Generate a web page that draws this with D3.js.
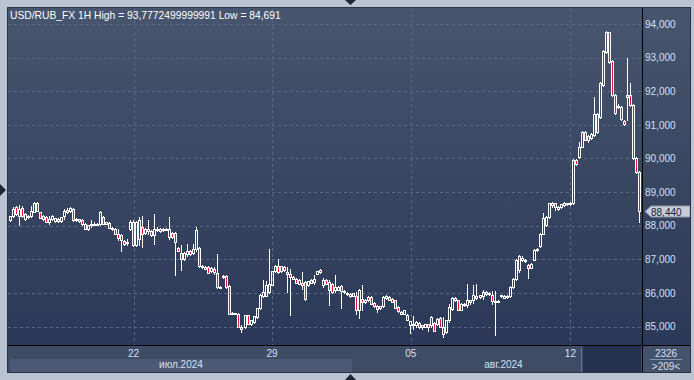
<!DOCTYPE html>
<html>
<head>
<meta charset="utf-8">
<script src="https://cdn.jsdelivr.net/npm/d3@7"></script>
<style>
  body { margin: 0; background: #b9c3d1; }
  svg { display: block; font-family: "Liberation Sans", Arial, sans-serif; }
</style>
</head>
<body>
<div id="chart"></div>
<script>
// ---- data ----
var title = "USD/RUB_FX 1H High = 93,7772499999991 Low = 84,691";

// hourly candles [open, high, low, close], July part
var julyCandles = [
  [88.16,88.30,88.13,88.28],[88.28,88.55,88.25,88.50],[88.55,88.60,88.32,88.35],[88.30,88.62,88.01,88.50],
  [88.52,88.58,88.26,88.28],[88.20,88.38,88.18,88.35],[88.25,88.33,88.22,88.30],[88.30,88.60,88.25,88.45],
  [88.42,88.70,88.40,88.68],[88.68,88.70,88.43,88.45],[88.40,88.42,88.22,88.23],[88.20,88.32,88.18,88.30],
  [88.25,88.28,88.10,88.11],[88.11,88.30,88.06,88.20],[88.19,88.33,88.17,88.30],[88.22,88.24,88.12,88.13],
  [88.13,88.22,88.11,88.20],[88.13,88.27,88.12,88.25],[88.28,88.50,88.20,88.45],[88.40,88.52,88.38,88.48],
  [88.45,88.55,88.40,88.52],[88.50,88.53,88.14,88.16],[88.16,88.22,88.14,88.20],[88.19,88.21,88.12,88.13],
  [88.16,88.20,88.01,88.06],[88.06,88.08,87.90,87.91],[87.91,88.03,87.88,88.01],[88.01,88.16,87.96,88.06],
  [88.06,88.10,88.02,88.03],[88.03,88.08,88.01,88.06],[88.06,88.45,88.01,88.40],[88.25,88.30,88.05,88.06],
  [88.06,88.12,88.04,88.11],[88.08,88.12,87.93,87.94],[87.94,87.97,87.88,87.91],[87.91,87.94,87.75,87.76],
  [87.76,87.91,87.56,87.63],[87.71,87.74,87.26,87.56],[87.53,87.58,87.43,87.46],[87.48,87.61,87.41,87.51],
  [87.91,88.16,87.86,88.11],[88.11,88.16,87.40,87.43],[87.43,88.13,87.40,88.11],[87.61,88.25,87.41,88.16],
  [87.96,88.30,87.36,87.76],[87.79,87.94,87.75,87.91],[87.91,88.16,87.76,87.83],[87.83,87.86,87.69,87.71],
  [87.71,88.35,87.46,87.91],[87.91,87.95,87.85,87.88],[87.91,87.93,87.82,87.83],[87.86,87.93,87.84,87.91],
  [87.91,87.93,87.87,87.89],[87.66,88.25,87.61,87.91],[87.79,87.82,87.64,87.66],[87.79,87.82,86.52,87.51],
  [87.33,87.36,87.24,87.26],[87.19,87.41,86.67,87.01],[87.01,87.21,86.98,87.19],[87.16,87.46,87.11,87.26],
  [87.26,87.29,87.14,87.16],[87.19,87.46,87.16,87.31],[87.31,87.96,87.26,87.86],[87.33,87.38,86.77,86.79],
  [86.79,86.82,86.74,86.77],[86.77,86.80,86.70,86.72],[86.77,86.80,86.58,86.60],[86.64,86.76,86.62,86.74],
  [86.70,86.77,86.57,86.62],[86.60,87.16,86.16,86.17],[86.17,86.20,86.15,86.18],[86.46,86.52,86.44,86.51],
  [86.49,86.52,86.16,86.17],[86.20,86.22,85.37,85.38],[85.38,85.42,85.36,85.40],[85.40,85.41,85.36,85.37],
  [85.37,85.40,84.98,85.00],[85.00,85.05,84.83,84.93],[84.98,85.35,84.95,85.35],[85.33,85.35,85.06,85.08],
  [85.08,85.20,85.05,85.18],[85.13,85.32,85.10,85.31],[85.28,85.56,85.26,85.54],[85.54,85.96,85.52,85.94],
  [85.92,86.37,85.87,86.02],[85.92,86.34,85.90,86.22],[86.02,87.31,86.00,86.27],[86.24,86.66,86.22,86.64],
  [86.64,86.84,86.62,86.81],[86.81,87.01,86.60,86.62],[86.64,86.80,86.62,86.79],[86.77,86.80,86.66,86.67],
  [86.62,86.77,86.02,86.57],[86.57,86.70,85.33,86.47],[86.47,86.50,86.40,86.42],[86.42,86.45,86.28,86.30],
  [86.27,86.40,86.25,86.37],[86.30,86.62,86.12,86.22],[86.32,86.35,85.80,85.82],[86.22,86.36,86.20,86.34],
  [86.37,86.40,86.28,86.30],[86.32,86.54,86.27,86.40],[86.57,86.66,86.55,86.64],[86.69,86.72,86.60,86.62],
  [86.23,86.45,86.18,86.37],[86.37,86.40,86.25,86.27],[86.32,86.37,85.63,86.10],[86.27,86.30,86.00,86.03],
  [86.08,86.52,86.03,86.18],[86.10,86.20,86.08,86.18],[86.20,86.22,85.56,86.06],[86.06,86.08,86.00,86.03],
  [86.00,86.03,85.95,85.96],[85.90,86.00,85.88,85.98]
];

// August part
var augustCandles = [
  [85.99,86.01,85.90,85.92],[85.90,86.03,85.38,85.50],[85.50,86.13,85.26,86.08],[85.83,86.23,85.48,85.73],
  [85.73,85.82,85.70,85.80],[85.88,85.90,85.76,85.78],[85.88,85.90,85.66,85.68],[85.70,85.73,85.58,85.60],
  [85.60,85.63,85.43,85.53],[85.56,85.62,85.52,85.60],[85.60,85.90,85.58,85.88],[85.85,85.93,85.82,85.90],
  [85.88,85.92,85.78,85.80],[85.83,85.86,85.72,85.73],[85.78,85.80,85.54,85.56],[85.58,85.60,85.43,85.45],
  [85.43,85.46,85.36,85.38],[85.38,85.50,85.36,85.48],[85.33,85.36,85.18,85.20],[85.03,85.17,84.81,85.15],
  [85.06,85.30,84.93,85.03],[85.03,85.15,85.00,85.13],[85.10,85.13,84.96,84.98],[85.00,85.04,84.93,85.03],
  [85.00,85.08,84.98,85.06],[85.06,85.08,84.88,85.00],[85.03,85.30,85.00,85.28],[85.10,85.13,84.86,84.88],
  [85.06,85.25,85.03,85.23],[85.25,85.28,84.98,85.00],[85.00,85.28,84.69,84.79],[84.84,85.20,84.80,85.18],
  [85.18,85.68,85.13,85.58],[85.53,85.87,85.50,85.85],[85.85,85.88,85.76,85.78],[85.78,85.80,85.48,85.50],
  [85.50,85.70,85.48,85.68],[85.68,85.70,85.62,85.65],[85.63,86.25,85.58,85.78],[85.78,85.80,85.68,85.72],
  [85.78,86.23,85.70,85.93],[85.90,86.25,85.82,85.85],[85.87,85.95,85.85,85.93],[85.90,86.10,85.83,86.03],
  [86.03,86.05,85.95,85.97],[86.00,86.02,85.94,85.96],[85.93,86.06,85.68,85.76],[85.76,86.05,84.76,85.74],
  [85.76,85.80,85.73,85.75],[85.92,85.95,85.89,85.93],[85.86,85.93,85.85,85.92],[85.90,85.95,85.85,85.88],
  [85.90,86.20,85.88,86.18],[86.18,86.45,86.15,86.42],[86.40,87.00,86.38,86.97],[86.67,87.14,86.62,87.09],
  [87.04,87.10,86.95,86.97],[86.99,87.02,86.93,86.95],[86.82,86.85,86.45,86.75],[86.75,86.90,86.73,86.87],
  [86.99,87.30,86.97,87.27],[87.27,87.35,87.25,87.32],[87.39,87.78,87.37,87.76],[87.76,88.38,87.74,88.23],
  [88.01,88.30,87.99,88.26],[88.26,88.68,88.24,88.66],[88.62,88.70,88.56,88.68],[88.66,88.68,88.46,88.56],
  [88.56,88.60,88.48,88.51],[88.56,88.65,88.53,88.63],[88.61,88.70,88.58,88.68],[88.66,88.68,88.62,88.64],
  [88.64,88.69,88.62,88.68],[88.66,89.98,88.64,89.95],[89.95,89.98,89.80,89.82],[90.05,90.50,90.02,90.35],
  [90.35,90.82,90.33,90.79],[90.79,90.82,90.54,90.56],[90.56,90.69,90.50,90.66],[90.62,90.76,90.58,90.74],
  [90.69,91.82,90.66,91.32],[91.32,91.36,90.77,90.79],[91.24,92.26,91.20,92.23],[92.18,93.24,92.15,93.21],
  [93.18,93.78,93.15,93.75],[93.75,93.77,92.85,92.88],[92.91,92.94,91.87,91.89],[91.89,91.92,91.32,91.34],
  [91.52,91.62,91.50,91.56],[91.52,91.55,91.14,91.16],[91.11,91.13,90.99,91.01],[91.84,92.98,91.14,91.89],
  [91.89,92.23,91.57,91.59],[91.59,91.62,89.98,90.00],[90.00,90.03,89.58,89.60],[89.60,89.63,88.11,88.44]
];

var priceTicks = [85, 86, 87, 88, 89, 90, 91, 92, 93, 94];
var dayTickIndex = [41, 87, 133, 186];
var dayTickLabels = ["22", "29", "05", "12"];
var monthLabels = ["июл.2024", "авг.2024"];
var lastPrice = 88.44;
var totalBars = "2326";
var visibleBars = ">209<";

// ---- layout ----
var W = 694, H = 380;
var plot = {left: 8, right: 642, top: 8, bottom: 345};

var candles = julyCandles.concat(augustCandles);
var ruFmt = function(v, p) { return d3.format("." + p + "f")(v).replace(".", ","); };

var svg = d3.select("#chart").append("svg")
  .attr("width", W).attr("height", H);

var defs = svg.append("defs");
var grad = defs.append("linearGradient").attr("id", "bg")
  .attr("x1", 0).attr("y1", 0).attr("x2", 0).attr("y2", 1);
grad.append("stop").attr("offset", "0%").attr("stop-color", "#47556e");
grad.append("stop").attr("offset", "100%").attr("stop-color", "#2b3857");

// panel background
svg.append("rect").attr("x", 8).attr("y", 8).attr("width", 682).attr("height", 337)
  .attr("fill", "url(#bg)");
// bottom time axis strip
svg.append("rect").attr("x", 8).attr("y", 346).attr("width", 682).attr("height", 26)
  .attr("fill", "#3f4c66");

var x = d3.scaleBand()
  .domain(d3.range(candles.length))
  .range([8.5, 641.2]);
var y = d3.scaleLinear().domain([85, 94]).range([326.5, 24]);

var xc = function(i) { return x(i) + x.bandwidth() / 2; };

// gridlines
svg.append("g").selectAll("line.h")
  .data(priceTicks).enter().append("line")
  .attr("x1", plot.left).attr("x2", plot.right)
  .attr("y1", d => Math.round(y(d)) + 0.5).attr("y2", d => Math.round(y(d)) + 0.5)
  .attr("stroke", "#5a6885").attr("stroke-dasharray", "3,3");
svg.append("g").selectAll("line.v")
  .data(dayTickIndex).enter().append("line")
  .attr("x1", d => Math.round(xc(d)) + 0.5).attr("x2", d => Math.round(xc(d)) + 0.5)
  .attr("y1", plot.top).attr("y2", plot.bottom)
  .attr("stroke", "#5a6885").attr("stroke-dasharray", "3,3");

// candles: wick above and below the body, hollow body for up bars
var cg = svg.append("g");
candles.forEach(function(c, i) {
  var left = Math.round(xc(i) - 1.5);
  var up = c[3] >= c[0];
  var top = Math.round(y(Math.max(c[0], c[3])));
  var bot = Math.round(y(Math.min(c[0], c[3])));
  var hiY = Math.round(y(c[1])), loY = Math.round(y(c[2]));
  if (hiY < top) {
    cg.append("line").attr("x1", left + 1.5).attr("x2", left + 1.5)
      .attr("y1", hiY).attr("y2", top).attr("stroke", "#ffffff");
  }
  if (loY > bot) {
    cg.append("line").attr("x1", left + 1.5).attr("x2", left + 1.5)
      .attr("y1", bot + 1).attr("y2", loY + 1).attr("stroke", "#ffffff");
  }
  cg.append("rect")
    .attr("x", left + 0.5).attr("y", top + 0.5)
    .attr("width", 2).attr("height", Math.max(bot - top, 1))
    .attr("fill", up ? "none" : "#e3173e")
    .attr("stroke", "#ffffff").attr("stroke-width", 1);
});

// title
svg.append("text").attr("x", 10).attr("y", 18.5)
  .attr("fill", "#ffffff").style("font-size", "10.3px")
  .text(title);

// right price axis
svg.append("g").selectAll("text")
  .data(priceTicks).enter().append("text")
  .attr("x", 645).attr("y", d => y(d) + 3.8)
  .attr("fill", "#d3e0f3").style("font-size", "10px")
  .text(d => ruFmt(d, 3));

// last price tag
var ly = Math.round(y(lastPrice)) + 0.5;
svg.append("path")
  .attr("d", "M645," + ly + "L651," + (ly - 5.5) + "L690," + (ly - 5.5) + "L690," + (ly + 5.5) + "L651," + (ly + 5.5) + "Z")
  .attr("fill", "#c6cdd8").attr("stroke", "#8c96a8");
svg.append("text").attr("x", 651).attr("y", ly + 4)
  .attr("fill", "#1b2030").style("font-size", "10px")
  .text(ruFmt(lastPrice, 3));

// month bands
var monthEdge = [0, 114, candles.length];
svg.append("rect").attr("x", 10).attr("y", 359)
  .attr("width", x(monthEdge[1]) - 10).attr("height", 13).attr("fill", "#4b5975");
svg.append("rect").attr("x", 583).attr("y", 346).attr("width", 58).attr("height", 26)
  .attr("fill", "#243250");
svg.append("line").attr("x1", 581.5).attr("x2", 581.5).attr("y1", 348).attr("y2", 372)
  .attr("stroke", "#66728a");

svg.append("g").selectAll("text")
  .data(monthLabels).enter().append("text")
  .attr("x", (d, i) => i === 0 ? (10 + x(monthEdge[1])) / 2 : (x(monthEdge[1]) + 655) / 2)
  .attr("y", 368).attr("text-anchor", "middle")
  .attr("fill", "#d3e0f3").style("font-size", "10px")
  .text(d => d);

// day ticks
svg.append("g").selectAll("text")
  .data(dayTickIndex).enter().append("text")
  .attr("x", d => xc(d)).attr("y", 357).attr("text-anchor", "middle")
  .attr("fill", "#d3e0f3").style("font-size", "10px")
  .text((d, i) => dayTickLabels[i]);

// bar count box
svg.append("rect").attr("x", 643).attr("y", 346).attr("width", 47).attr("height", 26)
  .attr("fill", "#44526c");
svg.append("text").attr("x", 666).attr("y", 357).attr("text-anchor", "middle")
  .attr("fill", "#d3e0f3").style("font-size", "10px").text(totalBars);
svg.append("line").attr("x1", 650).attr("x2", 682).attr("y1", 359.5).attr("y2", 359.5)
  .attr("stroke", "#8a96ab");
svg.append("text").attr("x", 666).attr("y", 369.5).attr("text-anchor", "middle")
  .attr("fill", "#d3e0f3").style("font-size", "10px").text(visibleBars);

// frame lines
svg.append("line").attr("x1", 642.5).attr("x2", 642.5).attr("y1", 8).attr("y2", 372)
  .attr("stroke", "#000000");
svg.append("line").attr("x1", 8).attr("x2", 690).attr("y1", 345.5).attr("y2", 345.5)
  .attr("stroke", "#000000");
svg.append("rect").attr("x", 7.5).attr("y", 7.5).attr("width", 683).attr("height", 365)
  .attr("fill", "none").attr("stroke", "#2a3346");

// scroll markers
svg.append("path").attr("d", "M345,0L356,0L350.5,5Z").attr("fill", "#1e2636");
svg.append("path").attr("d", "M345,380L356,380L350.5,374Z").attr("fill", "#1e2636");
svg.append("path").attr("d", "M0,184L0,196L6,190Z").attr("fill", "#1e2636");
</script>
</body>
</html>
